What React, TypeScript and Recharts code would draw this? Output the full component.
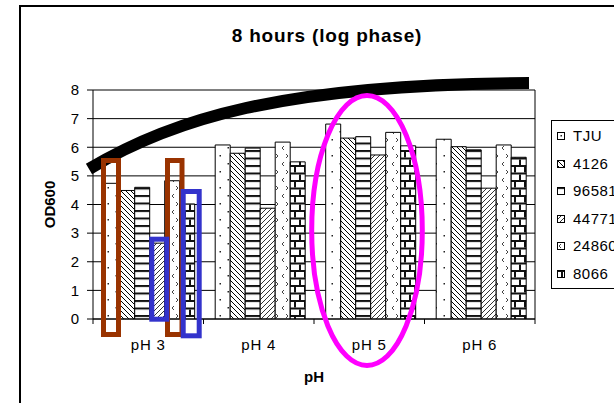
import React from "react";
import { Bar, BarChart, CartesianGrid, Label, XAxis, YAxis } from "recharts";

// OD600 after 8 h
const categories = ["pH 3", "pH 4", "pH 5", "pH 6"];
const strains = ["TJU", "4126", "96581", "44771", "24860", "8066"];
const tju = [4.74, 6.08, 6.81, 6.28];
const s4126 = [4.49, 5.79, 6.32, 6.02];
const s96581 = [4.6, 5.97, 6.37, 5.91];
const s44771 = [2.65, 3.87, 5.73, 4.57];
const s24860 = [4.83, 6.18, 6.52, 6.08];
const s8066 = [4.02, 5.49, 6.05, 5.65];
const yTicks = [0, 1, 2, 3, 4, 5, 6, 7, 8];

const seriesValues = [tju, s4126, s96581, s44771, s24860, s8066];
const data = categories.map((c, i) => {
  const row: Record<string, string | number> = { ph: c };
  strains.forEach((s, j) => (row[s] = seriesValues[j][i]));
  return row;
});

const W = 614;
const H = 403;
const PLOT_LEFT = 93;
const PLOT_TOP = 90;
const PLOT_RIGHT = 535;
const PLOT_BOTTOM = 319;
const BAND = (PLOT_RIGHT - PLOT_LEFT) / categories.length;
const FONT = "'Liberation Sans', Arial, sans-serif";

const patternIds = ["pDots", "pDown", "pHoriz", "pUp", "pChevron", "pBrick"];

function Patterns() {
  return (
    <svg width={0} height={0} style={{ position: "absolute" }}>
      <defs>
        <pattern id="pDots" width={16} height={16} patternUnits="userSpaceOnUse">
          <rect width={16} height={16} fill="#fff" />
          <rect x={3.5} y={3} width={1.5} height={1.5} fill="#222" />
          <rect x={11.5} y={11} width={1.5} height={1.5} fill="#222" />
        </pattern>
        <pattern id="pDown" width={5} height={5} patternUnits="userSpaceOnUse">
          <rect width={5} height={5} fill="#fff" />
          <path d="M-1,-1 L6,6 M-1,4 L1,6 M4,-1 L6,1" stroke="#000" strokeWidth={1} />
        </pattern>
        <pattern id="pHoriz" width={8} height={7.5} patternUnits="userSpaceOnUse">
          <rect width={8} height={7.5} fill="#fff" />
          <rect y={0} width={8} height={2} fill="#111" />
        </pattern>
        <pattern id="pUp" width={5} height={5} patternUnits="userSpaceOnUse">
          <rect width={5} height={5} fill="#fff" />
          <path d="M-1,6 L6,-1 M-1,1 L1,-1 M4,6 L6,4" stroke="#333" strokeWidth={1} />
        </pattern>
        <pattern id="pChevron" width={10} height={16} patternUnits="userSpaceOnUse">
          <rect width={10} height={16} fill="#fff" />
          <path d="M4,2 L2,4 L4,6 M6,10 L8,12 L6,14" stroke="#444" strokeWidth={1} fill="none" />
        </pattern>
        <pattern id="pBrick" width={10} height={15} patternUnits="userSpaceOnUse">
          <rect width={10} height={15} fill="#fff" />
          <rect y={0} width={10} height={2} fill="#111" />
          <rect y={7.5} width={10} height={2} fill="#111" />
          <rect x={4} y={2} width={2} height={5.5} fill="#111" />
          <rect x={-1} y={9.5} width={2} height={5.5} fill="#111" />
          <rect x={9} y={9.5} width={2} height={5.5} fill="#111" />
        </pattern>
      </defs>
    </svg>
  );
}

function PhTick(props: any) {
  const { x, payload, index } = props;
  const half = BAND / 2;
  return (
    <g>
      <line x1={x - half} x2={x - half} y1={PLOT_BOTTOM} y2={PLOT_BOTTOM + 5} stroke="#000" />
      {index === categories.length - 1 && (
        <line x1={x + half} x2={x + half} y1={PLOT_BOTTOM} y2={PLOT_BOTTOM + 5} stroke="#000" />
      )}
      <text x={x} y={PLOT_BOTTOM + 31} textAnchor="middle" fontSize={15} letterSpacing={0.8} fill="#000">
        {payload.value}
      </text>
    </g>
  );
}

// hand-drawn highlights on top of the chart
const brownBoxes = [
  { x: 103.5, y: 160.5, w: 15, h: 174 },
  { x: 167.5, y: 160.5, w: 14.5, h: 174 },
];
const blueBoxes = [
  { x: 151.8, y: 239.2, w: 15, h: 80 },
  { x: 183.2, y: 191.5, w: 16, h: 144.3 },
];

function Overlay() {
  return (
    <svg width={W} height={H} style={{ position: "absolute", left: 0, top: 0, pointerEvents: "none" }}>
      <text x={327} y={42} textAnchor="middle" fontSize={19} fontWeight="bold" letterSpacing={0.8} fontFamily={FONT}>
        8 hours (log phase)
      </text>
      <line x1={PLOT_RIGHT} x2={PLOT_RIGHT} y1={PLOT_TOP} y2={PLOT_BOTTOM} stroke="#000" />
      <path d="M 89 169 C 170 120, 280 84, 529 83" stroke="#000" strokeWidth={12} fill="none" />
      {brownBoxes.map((b, i) => (
        <rect key={"br" + i} x={b.x} y={b.y} width={b.w} height={b.h} fill="none" stroke="#993300" strokeWidth={5} />
      ))}
      {blueBoxes.map((b, i) => (
        <rect key={"bl" + i} x={b.x} y={b.y} width={b.w} height={b.h} fill="none" stroke="#3333CC" strokeWidth={5} />
      ))}
      <ellipse cx={367} cy={230.5} rx={55.3} ry={135} fill="none" stroke="#FF00FF" strokeWidth={5} />
    </svg>
  );
}

function StrainLegend() {
  return (
    <div
      style={{
        position: "absolute",
        left: 551,
        top: 120,
        width: 100,
        height: 167,
        border: "1px solid #000",
        background: "#fff",
      }}
    >
      {strains.map((s, i) => (
        <div
          key={s}
          style={{ position: "absolute", left: 5, top: 6 + i * 27.5, height: 18, display: "flex", alignItems: "center" }}
        >
          <svg width={8} height={8} style={{ marginRight: 8 }}>
            <rect x={0.5} y={0.5} width={7} height={7} fill={`url(#${patternIds[i]})`} stroke="#000" />
          </svg>
          <span style={{ fontSize: 15, letterSpacing: 0.5, lineHeight: "18px", whiteSpace: "nowrap" }}>{s}</span>
        </div>
      ))}
    </div>
  );
}

export default function App() {
  return (
    <div
      style={{
        position: "absolute",
        left: 0,
        top: 0,
        width: W,
        height: H,
        overflow: "hidden",
        background: "#fff",
        fontFamily: FONT,
      }}
    >
      <Patterns />
      <div
        style={{
          position: "absolute",
          left: 19,
          top: 5,
          width: 700,
          height: 500,
          border: "2px solid #000",
        }}
      />
      <div style={{ position: "absolute", left: 0, top: 0 }}>
        <BarChart
          width={W}
          height={H}
          data={data}
          margin={{ top: PLOT_TOP, right: W - PLOT_RIGHT, left: 7, bottom: 54 }}
          barCategoryGap={11.7}
          barGap={0}
        >
          <CartesianGrid vertical={false} stroke="#000" strokeDasharray="" />
          <XAxis
            dataKey="ph"
            height={30}
            axisLine={{ stroke: "#000" }}
            tickLine={false}
            tick={<PhTick />}
            interval={0}
          >
            <Label value="pH" position="bottom" offset={22} fontSize={15} fontWeight="bold" fill="#000" />
          </XAxis>
          <YAxis
            width={86}
            domain={[0, 8]}
            ticks={yTicks}
            allowDataOverflow
            axisLine={{ stroke: "#000" }}
            tickLine={{ stroke: "#000" }}
            tickSize={6}
            tickMargin={8}
            tick={{ fill: "#000", fontSize: 15 }}
          >
            <Label value="OD600" angle={-90} position="center" fontSize={15} fontWeight="bold" fill="#000" />
          </YAxis>
          {strains.map((s, i) => (
            <Bar
              key={s}
              dataKey={s}
              name={s}
              fill={`url(#${patternIds[i]})`}
              stroke="#000"
              strokeWidth={1}
              isAnimationActive={false}
            />
          ))}
        </BarChart>
      </div>
      <Overlay />
      <StrainLegend />
    </div>
  );
}
